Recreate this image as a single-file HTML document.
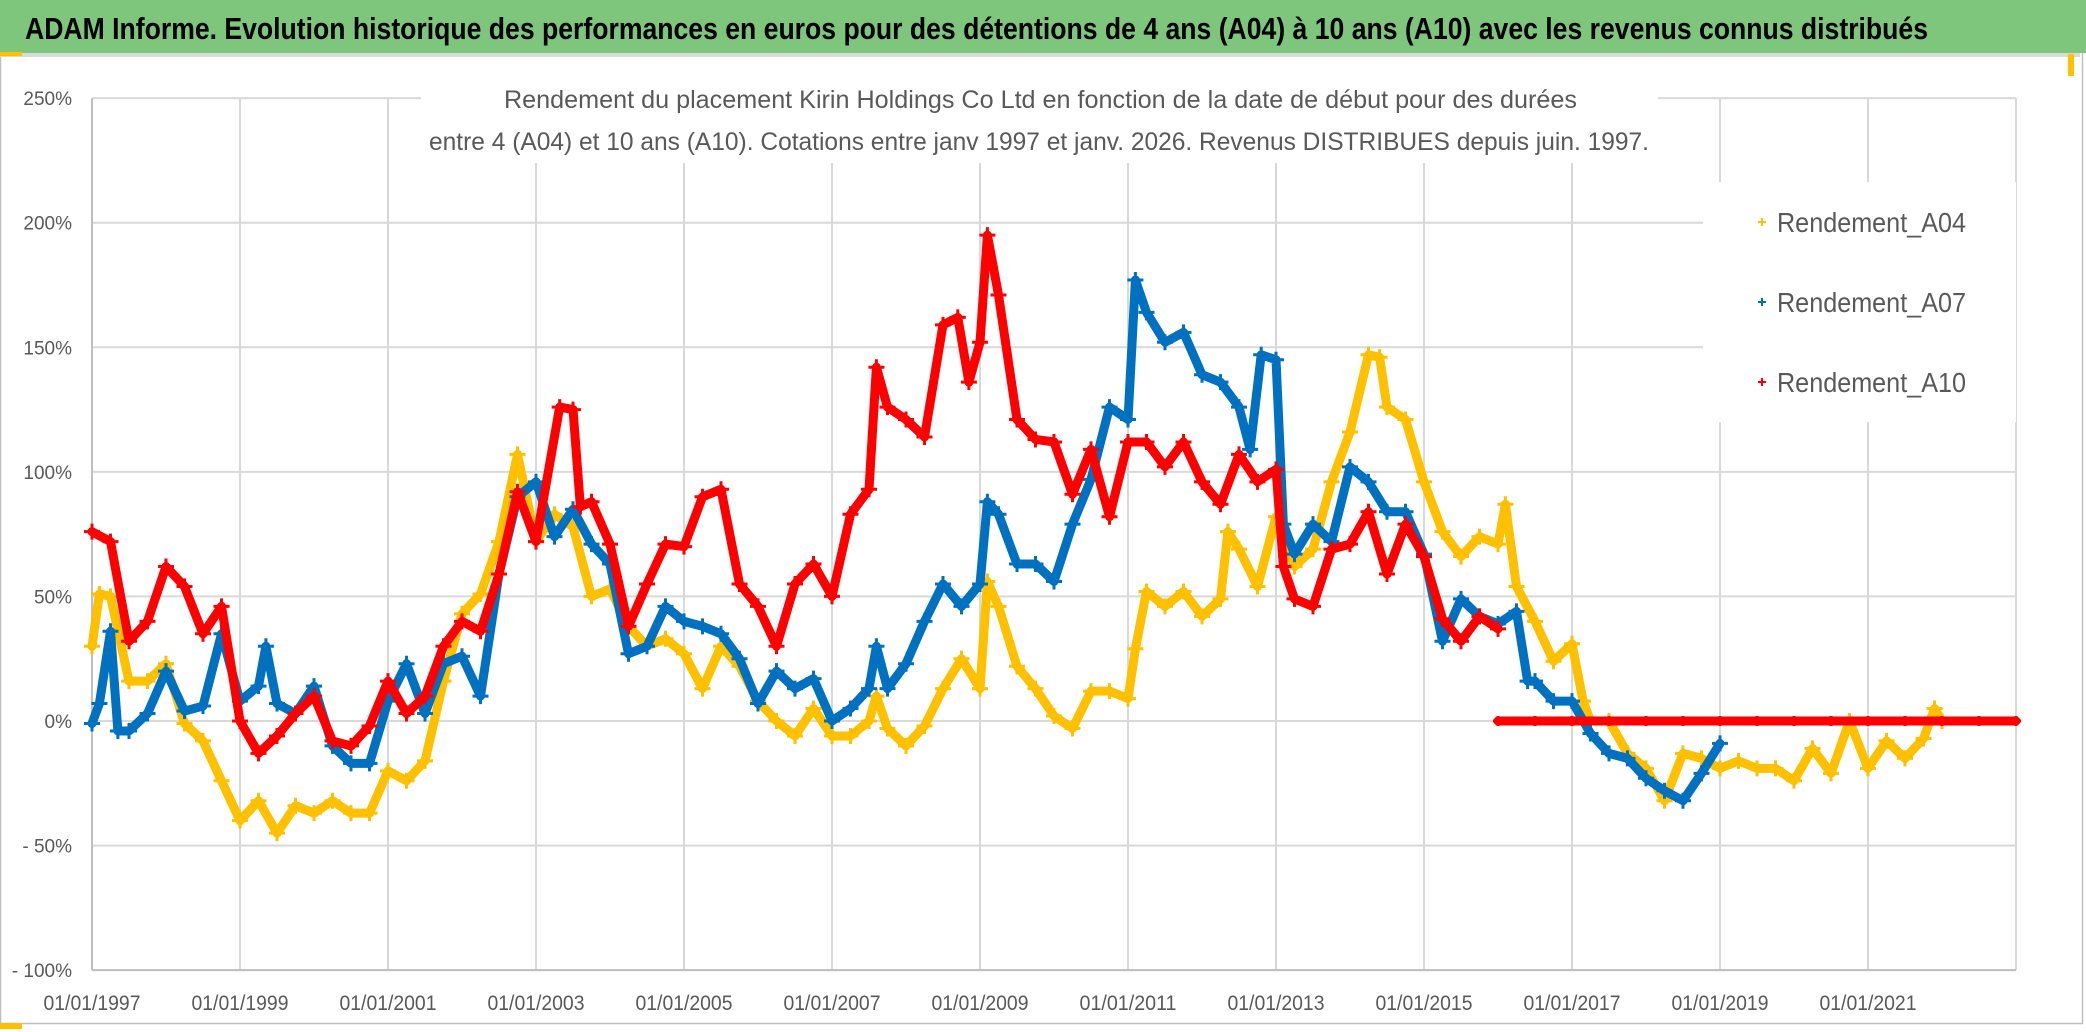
<!DOCTYPE html>
<html><head><meta charset="utf-8">
<style>
html,body{margin:0;padding:0;background:#fff;}
body{width:2086px;height:1032px;overflow:hidden;position:relative;}
svg{position:absolute;left:0;top:0;}
text{font-family:"Liberation Sans",sans-serif;}
</style></head>
<body>
<svg id="chart" width="2086" height="1032" viewBox="0 0 2086 1032">
  <rect x="0" y="0" width="2086" height="1032" fill="#ffffff"/>
  <rect x="0.5" y="0.5" width="2082" height="1023" fill="none" stroke="#bfbfbf" stroke-width="1.5"/>
  <rect x="0" y="0" width="2086" height="53" fill="#7dc67c"/>
  <rect x="0" y="53" width="2080" height="4" fill="#d9d9d9"/>
  <rect x="0" y="52" width="22" height="4" fill="#ffc000"/>
  <rect x="0" y="1023" width="22" height="6" fill="#ffc000"/>
  <rect x="2068" y="54" width="6" height="22" fill="#ffc000"/>
  <text x="25" y="39" font-size="31" font-weight="bold" fill="#000" textLength="1903" lengthAdjust="spacingAndGlyphs">ADAM Informe. Evolution historique des performances en euros pour des détentions de 4 ans (A04) à 10 ans (A10) avec les revenus connus distribués</text>
  <g id="grid"></g>
  <rect x="421" y="62" width="1237" height="101" fill="#fff"/>
  <rect x="1703" y="182" width="313" height="240" fill="#fff"/>
  <text x="504" y="108" font-size="25" fill="#595959" textLength="1073" lengthAdjust="spacingAndGlyphs">Rendement du placement Kirin Holdings Co Ltd en fonction de la date de début pour des durées</text>
  <text x="429" y="150" font-size="25" fill="#595959" textLength="1220" lengthAdjust="spacingAndGlyphs">entre 4 (A04) et 10 ans (A10). Cotations entre janv 1997 et janv. 2026. Revenus DISTRIBUES depuis juin. 1997.</text>
  <g id="yaxis"></g>
  <g id="xaxis"></g>
  <g id="series"></g>
  <g id="legend"></g>
</svg>
<script>
// ---- data ----
const yTickValues = [250, 200, 150, 100, 50, 0, -50, -100];
const yTickLabels = ["250%", "200%", "150%", "100%", "50%", "0%", "- 50%", "- 100%"];
const xTickYears = [1997, 1999, 2001, 2003, 2005, 2007, 2009, 2011, 2013, 2015, 2017, 2019, 2021];
const xTickLabels = ["01/01/1997","01/01/1999","01/01/2001","01/01/2003","01/01/2005","01/01/2007","01/01/2009","01/01/2011","01/01/2013","01/01/2015","01/01/2017","01/01/2019","01/01/2021"];
const seriesNames = ["Rendement_A04", "Rendement_A07", "Rendement_A10"];

const a04Years = [1997,1997.1,1997.25,1997.5,1997.75,1998,1998.25,1998.5,1998.75,1999,1999.25,1999.5,1999.75,2000,2000.25,2000.5,2000.75,2001,2001.25,2001.5,2001.75,2002,2002.25,2002.5,2002.75,2003,2003.25,2003.5,2003.75,2004,2004.25,2004.5,2004.75,2005,2005.25,2005.5,2005.75,2006,2006.25,2006.5,2006.75,2007,2007.25,2007.5,2007.6,2007.75,2008,2008.25,2008.5,2008.75,2009,2009.1,2009.25,2009.5,2009.75,2010,2010.25,2010.5,2010.75,2011,2011.1,2011.25,2011.5,2011.75,2012,2012.25,2012.35,2012.5,2012.75,2013,2013.25,2013.5,2013.75,2014,2014.25,2014.4,2014.5,2014.75,2015,2015.25,2015.5,2015.75,2016,2016.1,2016.25,2016.5,2016.75,2017,2017.15,2017.25,2017.5,2017.75,2018,2018.25,2018.5,2018.75,2019,2019.25,2019.5,2019.75,2020,2020.25,2020.5,2020.75,2021,2021.25,2021.5,2021.75,2021.9,2022];
const a04Values = [30,51,50,16,16,23,-1,-8,-24,-40,-32,-45,-34,-37,-32,-37,-37,-20,-24,-16,16,43,51,72,107,72,83,78,50,53,38,30,33,27,13,30,22,8,0,-6,5,-6,-6,0,10,-3,-10,-2,13,25,13,56,46,22,13,2,-3,12,12,9,29,52,46,52,42,49,76,69,54,82,62,69,96,116,147,146,126,121,96,76,66,74,71,87,54,40,24,31,8,0,0,-13,-19,-32,-13,-15,-19,-16,-19,-19,-24,-11,-21,0,-19,-8,-15,-7,5,0];

const a07Years = [1997,1997.1,1997.25,1997.35,1997.5,1997.75,1998,1998.25,1998.5,1998.75,1999,1999.25,1999.35,1999.5,1999.75,2000,2000.25,2000.5,2000.75,2001,2001.25,2001.5,2001.75,2002,2002.25,2002.5,2002.75,2003,2003.25,2003.5,2003.75,2004,2004.25,2004.5,2004.75,2005,2005.25,2005.5,2005.75,2006,2006.25,2006.5,2006.75,2007,2007.25,2007.5,2007.6,2007.75,2008,2008.25,2008.5,2008.75,2009,2009.1,2009.25,2009.5,2009.75,2010,2010.25,2010.5,2010.75,2011,2011.1,2011.25,2011.5,2011.75,2012,2012.25,2012.5,2012.65,2012.8,2013,2013.1,2013.25,2013.5,2013.75,2014,2014.25,2014.5,2014.75,2015,2015.25,2015.5,2015.75,2016,2016.25,2016.4,2016.5,2016.75,2017,2017.25,2017.5,2017.75,2018,2018.25,2018.5,2018.75,2019];
const a07Values = [-1,7,36,-4,-4,3,20,4,6,35,8,14,30,7,3,14,-10,-17,-17,8,23,3,23,26,10,59,90,96,74,85,71,63,27,30,46,40,38,35,25,7,20,13,17,0,5,13,30,13,23,40,55,46,55,88,83,63,63,56,79,97,126,121,177,164,152,156,139,136,126,109,147,145,79,67,79,72,102,96,84,84,67,32,49,42,39,44,16,16,8,8,-5,-13,-15,-23,-28,-32,-21,-9];

const a10Years = [1997,1997.25,1997.5,1997.75,1998,1998.25,1998.5,1998.75,1999,1999.25,1999.5,1999.75,2000,2000.25,2000.5,2000.75,2001,2001.25,2001.5,2001.75,2002,2002.25,2002.5,2002.75,2003,2003.32,2003.5,2003.6,2003.75,2004,2004.25,2004.5,2004.75,2005,2005.25,2005.5,2005.75,2006,2006.25,2006.5,2006.75,2007,2007.25,2007.5,2007.6,2007.75,2008,2008.25,2008.5,2008.7,2008.85,2009,2009.1,2009.25,2009.5,2009.75,2010,2010.25,2010.5,2010.75,2011,2011.25,2011.5,2011.75,2012,2012.25,2012.5,2012.75,2013,2013.1,2013.25,2013.5,2013.75,2014,2014.25,2014.5,2014.75,2015,2015.25,2015.5,2015.75,2016];
const a10Values = [76,72,32,40,62,54,35,46,0,-13,-6,3,10,-8,-10,-2,16,3,10,30,40,36,59,92,72,126,125,86,88,71,38,55,71,70,90,93,55,46,30,55,63,50,83,93,142,126,121,114,159,162,136,152,195,171,121,113,112,91,109,82,112,112,102,112,96,87,107,96,101,62,49,46,69,71,84,59,79,66,41,32,42,37];

const a10FlatYears = [2016,2016.5,2017,2017.5,2018,2018.5,2019,2019.5,2020,2020.5,2021,2021.5,2022,2022.5,2023];
const a10FlatValues = [0,0,0,0,0,0,0,0,0,0,0,0,0,0,0];

// ---- scales ----
const X0 = 92, PX_PER_YEAR = 74, Y0 = 721, PX_PER_PCT = 2.4914;
function xScale(year){ return X0 + (year - 1997) * PX_PER_YEAR; }
function yScale(v){ return Y0 - v * PX_PER_PCT; }
const NS = "http://www.w3.org/2000/svg";
function mk(tag, attrs, parent){
  const e = document.createElementNS(NS, tag);
  for (const k in attrs) e.setAttribute(k, attrs[k]);
  parent.appendChild(e);
  return e;
}
const grid = document.getElementById('grid');
const yaxis = document.getElementById('yaxis');
const xaxis = document.getElementById('xaxis');
const series = document.getElementById('series');
const legend = document.getElementById('legend');
const plotLeft = xScale(1997), plotRight = xScale(2023);

yTickValues.forEach((v, i) => {
  const y = yScale(v);
  const ln = mk('line', {x1: plotLeft, x2: plotRight, y1: y, y2: y, stroke: '#d9d9d9', 'stroke-width': 2}, grid);
  
  
  const t = mk('text', {x: 72, y: y + 7, 'font-size': 19, fill: '#595959', 'text-anchor': 'end'}, yaxis);
  t.textContent = yTickLabels[i];
  
  
});
for (let yr = 1997; yr <= 2023; yr += 2) {
  const x = xScale(yr);
  const ln = mk('line', {x1: x, x2: x, y1: yScale(250), y2: yScale(-100), stroke: '#d9d9d9', 'stroke-width': 2}, grid);
  
  
}
const leftAxis = mk('line', {x1: plotLeft, x2: plotLeft, y1: yScale(250), y2: yScale(-100), stroke: '#bfbfbf', 'stroke-width': 2}, grid);


const bottomAxis = mk('line', {x1: plotLeft, x2: plotRight, y1: yScale(-100), y2: yScale(-100), stroke: '#bfbfbf', 'stroke-width': 2}, grid);



xTickYears.forEach((yr, i) => {
  const t = mk('text', {x: xScale(yr), y: 1010, 'font-size': 21, fill: '#595959', 'text-anchor': 'middle', textLength: 97, lengthAdjust: 'spacingAndGlyphs'}, xaxis);
  t.textContent = xTickLabels[i];
  
  
});

function plus(x, y, s){ return `M${x-s},${y}H${x+s}M${x},${y-s}V${y+s}`; }
function drawSeries(years, values, color, name, bandWidth, markerSize){
  const g = mk('g', {}, series);
  
  
  const pts = years.map((yr, i) => xScale(yr) + ',' + yScale(values[i])).join(' ');
  const pl = mk('polyline', {points: pts, fill: 'none', stroke: color, 'stroke-width': bandWidth, 'stroke-linejoin': 'round', 'stroke-linecap': 'round'}, g);
  
  
  let d = '';
  years.forEach((yr, i) => { d += plus(xScale(yr), yScale(values[i]), markerSize); });
  const mp = mk('path', {d: d, stroke: color, 'stroke-width': 3, fill: 'none'}, g);
  
  
}
drawSeries(a04Years, a04Values, '#ffc000', 'series-a04', 9, 8);
drawSeries(a07Years, a07Values, '#0070c0', 'series-a07', 9, 8);
drawSeries(a10Years, a10Values, '#ff0000', 'series-a10', 9, 8);
drawSeries(a10FlatYears, a10FlatValues, '#ff0000', 'series-a10-flat', 9, 5);

const legendColors = ['#ffc000', '#0070c0', '#ff0000'];
const legendY = [222, 302, 382];
seriesNames.forEach((n, i) => {
  const m = mk('path', {d: plus(1762, legendY[i], 4), stroke: legendColors[i], 'stroke-width': 2, fill: 'none'}, legend);
  
  
  const t = mk('text', {x: 1777, y: legendY[i] + 10, 'font-size': 28, fill: '#595959', textLength: 189, lengthAdjust: 'spacingAndGlyphs'}, legend);
  t.textContent = n;
  
  
});
</script>
</body></html>
